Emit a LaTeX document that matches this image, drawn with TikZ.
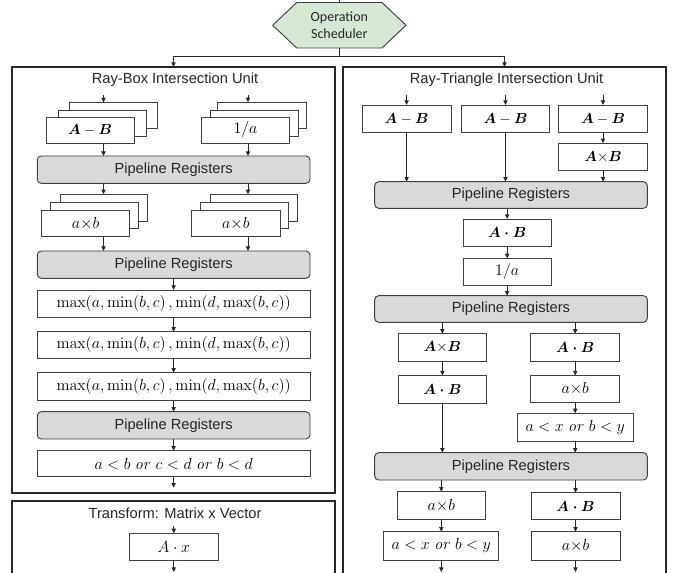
\documentclass[tikz,border=0pt]{standalone}
\usepackage{amsmath}
\usepackage[no-math]{fontspec}
\setmainfont{Liberation Sans}
\newfontfamily\calibfont{Carlito}
\usetikzlibrary{arrows.meta,fit,calc}
\definecolor{schedfill}{RGB}{213,232,212}
\definecolor{regfill}{RGB}{217,217,217}
\definecolor{edgec}{RGB}{64,64,64}
\definecolor{wirec}{RGB}{40,40,40}
\begin{document}
\begin{tikzpicture}[x=0.75pt,y=-0.75pt,
  box/.style={draw=edgec,line width=0.7pt,fill=white,inner sep=0pt,outer sep=0pt},
  reg/.style={draw=edgec,line width=0.7pt,fill=regfill,rounded corners=3pt,inner sep=0pt,outer sep=0pt},
  mtxt/.style={font=\fontsize{12}{14}\selectfont,inner sep=0pt},
  mbtxt/.style={font=\fontsize{11}{13}\selectfont,inner sep=0pt},
  rtxt/.style={font=\fontsize{11}{13}\selectfont,text=black!85,inner sep=0pt},
  unit/.style={draw=black!85,line width=0.8pt,inner sep=0pt,outer sep=0pt},
  ttl/.style={font=\fontsize{11}{13}\selectfont,text=black!85,inner sep=0pt},
  arr/.style={draw=wirec,line width=0.7pt,-{Triangle[length=3.5pt,width=3.2pt]}},
  wireline/.style={draw=wirec,line width=0.7pt},
]
\useasboundingbox (0,0) rectangle (678,573);
\clip (0,0) rectangle (678,573);

% ---------- scheduler ----------
\node[inner sep=0pt,outer sep=0pt,fit={(272.7,2.5)(406,48)}] (sched) {};
\draw[draw=edgec,line width=0.7pt,fill=schedfill]
  (sched.west) -- ($(sched.north west)+(24,0)$) -- ($(sched.north east)+(-24,0)$)
  -- (sched.east) -- ($(sched.south east)+(-24,0)$) -- ($(sched.south west)+(24,0)$) -- cycle;
\node[font=\calibfont\fontsize{10.5}{12.8}\selectfont,align=center,text=black!85] (schedtxt) at (sched.center) {Operation\\Scheduler};
\coordinate (topin) at ($(sched.north)+(0,-5)$);
\draw[wireline] (topin) -- (sched.north);
\coordinate (split) at ($(sched.south)+(0,8)$);
\draw[wireline] (sched.south) -- (split);

% ---------- outer units ----------
\node[unit,fit={(12,67)(335,493)}] (rbunit) {};
\node[unit,fit={(343,67)(666,600)}] (rtunit) {};
\node[unit,fit={(12,501)(335,600)}] (tfunit) {};
\draw[arr] (split) -| (rbunit.north);
\draw[arr] (split) -| (rtunit.north);

\node[ttl] (rbtitle) at (175,80) {Ray-Box Intersection Unit};
\node[ttl] (rttitle) at (506.5,80) {Ray-Triangle Intersection Unit};
\node[ttl] (tftitle) at (175,513.5) {Transform: Matrix x Vector};

% ---------- Ray-Box ----------
\coordinate (xl) at (103.5,0);
\coordinate (xr) at (248,0);
\node[box,fit={(69.5,102.5)(157.5,128.5)}] (abback) {};
\node[box,fit={(58,110)(146,136)}] (abmid) {};
\node[box,fit={(46,117)(134,143)},label={[mbtxt]center:$\boldsymbol{A}-\boldsymbol{B}$}] (ab) {};
\node[box,fit={(217.7,102.3)(306,128.3)}] (invback) {};
\node[box,fit={(210,110)(298.3,136)}] (invmid) {};
\node[box,fit={(201.7,117)(289.3,143)},label={[mtxt]center:$1/a$}] (inv) {};
\coordinate (inL) at (103.5,95);
\coordinate (inR) at (248,95);
\draw[arr] (inL) -- (inL |- abback.north);
\draw[arr] (inR) -- (inR |- invback.north);

\node[reg,fit={(37.3,156)(310,183.3)},label={[rtxt]center:Pipeline Registers}] (pr1) {};
\draw[arr] (xl |- ab.south) -- (xl |- pr1.north);
\draw[arr] (xr |- inv.south) -- (xr |- pr1.north);

\node[box,fit={(60,194.3)(147.7,221)}] (mlback) {};
\node[box,fit={(50,202.3)(138.3,228.7)}] (mlmid) {};
\node[box,fit={(41.7,210)(129.3,236.7)},label={[mtxt]center:$a{\times}b$}] (ml) {};
\node[box,fit={(210,194.3)(297.7,221)}] (mrback) {};
\node[box,fit={(200,202.3)(288.7,228.7)}] (mrmid) {};
\node[box,fit={(191.7,210)(280,236.7)},label={[mtxt]center:$a{\times}b$}] (mr) {};
\draw[arr] (xl |- pr1.south) -- (xl |- mlback.north);
\draw[arr] (xr |- pr1.south) -- (xr |- mrback.north);

\node[reg,fit={(37.3,251)(310,278.3)},label={[rtxt]center:Pipeline Registers}] (pr2) {};
\draw[arr] (xl |- ml.south) -- (xl |- pr2.north);
\draw[arr] (xr |- mr.south) -- (xr |- pr2.north);

\node[box,fit={(37.3,290)(310,317.3)},label={[mtxt]center:$\max(a,\min(b,c)\,,\min(d,\max(b,c))$}] (mx1) {};
\node[box,fit={(37.3,331.7)(310,358.3)},label={[mtxt]center:$\max(a,\min(b,c)\,,\min(d,\max(b,c))$}] (mx2) {};
\node[box,fit={(37.3,372.7)(310,400)},label={[mtxt]center:$\max(a,\min(b,c)\,,\min(d,\max(b,c))$}] (mx3) {};
\node[reg,fit={(37.3,411.7)(310,439)},label={[rtxt]center:Pipeline Registers}] (pr3) {};
\node[box,fit={(37.3,450.7)(310,476.7)},label={[mtxt]center:$a<b\ \mathit{or}\ c<d\ \mathit{or}\ b<d$}] (fin) {};
\coordinate (rbout) at ($(fin.south)+(0,11)$);
\draw[arr] (pr2.south) -- (mx1.north);
\draw[arr] (mx1.south) -- (mx2.north);
\draw[arr] (mx2.south) -- (mx3.north);
\draw[arr] (mx3.south) -- (pr3.north);
\draw[arr] (pr3.south) -- (fin.north);
\draw[arr] (fin.south) -- (rbout);

% ---------- Transform ----------
\node[box,fit={(129.3,533.3)(218.3,560)},label={[mtxt]center:$A\cdot x$}] (ax) {};
\coordinate (axin) at ($(ax.north)+(0,-7)$);
\coordinate (axout) at ($(ax.south)+(0,12)$);
\draw[arr] (axin) -- (ax.north);
\draw[arr] (ax.south) -- (axout);

% ---------- Ray-Triangle ----------
\node[box,fit={(362,105)(451.3,132.3)},label={[mbtxt]center:$\boldsymbol{A}-\boldsymbol{B}$}] (tab1) {};
\node[box,fit={(461.3,105)(549.7,132.3)},label={[mbtxt]center:$\boldsymbol{A}-\boldsymbol{B}$}] (tab2) {};
\node[box,fit={(558.7,105)(647.3,132.3)},label={[mbtxt]center:$\boldsymbol{A}-\boldsymbol{B}$}] (tab3) {};
\node[box,fit={(558.7,143.3)(647.3,170)},label={[mbtxt]center:$\boldsymbol{A}{\times}\boldsymbol{B}$}] (tx3) {};
\coordinate (tin1) at ($(tab1.north)+(0,-10)$);
\coordinate (tin2) at ($(tab2.north)+(0,-10)$);
\coordinate (tin3) at ($(tab3.north)+(0,-10)$);
\draw[arr] (tin1) -- (tab1.north);
\draw[arr] (tin2) -- (tab2.north);
\draw[arr] (tin3) -- (tab3.north);
\draw[arr] (tab3.south) -- (tx3.north);

\node[reg,fit={(374.7,181.7)(647.3,208.3)},label={[rtxt]center:Pipeline Registers}] (rpr1) {};
\draw[arr] (tab1.south) -- (tab1.south |- rpr1.north);
\draw[arr] (tab2.south) -- (tab2.south |- rpr1.north);
\draw[arr] (tx3.south) -- (tx3.south |- rpr1.north);

\node[box,fit={(463,219)(551.3,246)},label={[mbtxt]center:$\boldsymbol{A\cdot B}$}] (tdot1) {};
\node[box,fit={(463,258.3)(551.3,285.7)},label={[mtxt]center:$1/a$}] (tinv) {};
\node[reg,fit={(374.7,295.7)(647.3,322.3)},label={[rtxt]center:Pipeline Registers}] (rpr2) {};
\draw[arr] (tdot1.north |- rpr1.south) -- (tdot1.north);
\draw[arr] (tdot1.south) -- (tinv.north);
\draw[arr] (tinv.south) -- (tinv.south |- rpr2.north);

\node[box,fit={(398,333.8)(486.7,361.2)},label={[mbtxt]center:$\boldsymbol{A}{\times}\boldsymbol{B}$}] (tx4) {};
\node[box,fit={(530.7,333.8)(619.7,361.2)},label={[mbtxt]center:$\boldsymbol{A\cdot B}$}] (tdot2) {};
\draw[arr] (tx4.north |- rpr2.south) -- (tx4.north);
\draw[arr] (tdot2.north |- rpr2.south) -- (tdot2.north);

\node[box,fit={(398,375.5)(486.7,403)},label={[mbtxt]center:$\boldsymbol{A\cdot B}$}] (tdot3) {};
\node[box,fit={(530.7,375.5)(619.7,402.5)},label={[mtxt]center:$a{\times}b$}] (tmul1) {};
\node[box,fit={(517.4,413.3)(633,441)},label={[mtxt]center:$a<x\ \mathit{or}\ b<y$}] (tcmp1) {};
\draw[arr] (tx4.south) -- (tdot3.north);
\draw[arr] (tdot2.south) -- (tmul1.north);
\draw[arr] (tmul1.south) -- (tcmp1.north);

\node[reg,fit={(374.7,452.7)(647.3,480)},label={[rtxt]center:Pipeline Registers}] (rpr3) {};
\draw[arr] (tdot3.south) -- (tdot3.south |- rpr3.north);
\draw[arr] (tcmp1.south) -- (tcmp1.south |- rpr3.north);

\node[box,fit={(397.3,491.7)(485.3,519.3)},label={[mtxt]center:$a{\times}b$}] (tmul2) {};
\node[box,fit={(531,492.7)(620,519.3)},label={[mbtxt]center:$\boldsymbol{A\cdot B}$}] (tdot4) {};
\node[box,fit={(383.8,531.7)(498.8,560)},label={[mtxt]center:$a<x\ \mathit{or}\ b<y$}] (tcmp2) {};
\node[box,fit={(531,531.7)(620,560)},label={[mtxt]center:$a{\times}b$}] (tmul3) {};
\draw[arr] (tmul2.north |- rpr3.south) -- (tmul2.north);
\draw[arr] (tdot4.north |- rpr3.south) -- (tdot4.north);
\draw[arr] (tmul2.south) -- (tcmp2.north);
\draw[arr] (tdot4.south) -- (tmul3.north);
\coordinate (tout1) at ($(tcmp2.south)+(0,12)$);
\coordinate (tout2) at ($(tmul3.south)+(0,12)$);
\draw[arr] (tcmp2.south) -- (tout1);
\draw[arr] (tmul3.south) -- (tout2);
\end{tikzpicture}
\end{document}
